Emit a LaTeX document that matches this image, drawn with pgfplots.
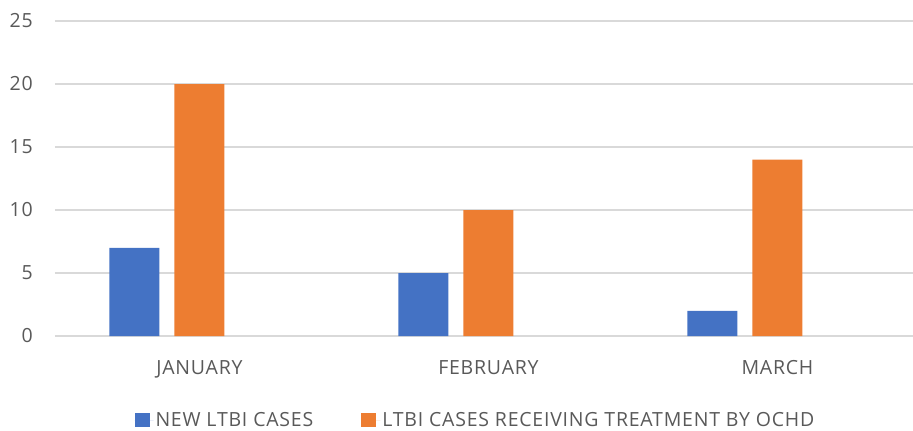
\documentclass[border=0pt]{standalone}
\usepackage{pgfplots}
\pgfplotsset{compat=1.18}
\usepackage{fontspec}
\setmainfont{Open Sans}[LetterSpace=4]
\definecolor{cblue}{HTML}{4472C4}
\definecolor{corange}{HTML}{ED7D31}
\definecolor{gridc}{HTML}{D9D9D9}
\definecolor{txt}{HTML}{595959}
\begin{document}
\begin{tikzpicture}
\begin{axis}[name=ax, scale only axis, width=858pt, height=315pt,
  xmin=-0.5, xmax=2.469, ymin=0, ymax=25,
  ytick={0,5,10,15,20,25}, xtick={0,1,2}, xticklabels={JANUARY,FEBRUARY,MARCH},
  axis line style={draw=none},
  ymajorgrids, grid style={gridc, line width=1.5pt},
  major tick length=0pt, tick style={draw=none},
  /pgf/number format/assume math mode=true,
  ticklabel style={font=\fontsize{19.5}{22}\selectfont, text=txt},
  yticklabel style={anchor=east, inner sep=0pt, xshift=-22pt},
  xticklabel style={anchor=base, inner sep=0pt, yshift=-38pt},
  legend style={at={(0.49,-0.267)}, anchor=center, draw=none, fill=none,
    font=\fontsize{19.5}{22}\selectfont, text=txt, legend columns=2,
    /tikz/every even column/.append style={column sep=46pt}},
  legend image code/.code={\path (0pt,0pt) -- (19pt,0pt); \fill[#1] (0pt,-7pt) rectangle (15pt,7.5pt);},
]
\addplot[ybar, bar width=50pt, bar shift=-65pt, fill=cblue, draw=none]
  coordinates {(0,7) (1,5) (2,2)};
\addlegendentry{NEW LTBI CASES}
\addplot[ybar, bar width=50pt, bar shift=0pt, fill=corange, draw=none]
  coordinates {(0,20) (1,10) (2,14)};
\addlegendentry{LTBI CASES RECEIVING TREATMENT BY OCHD}
\end{axis}
\pgfresetboundingbox
\path ([xshift=-55pt,yshift=-95pt]ax.south west) rectangle ([yshift=21pt]ax.north east);
\end{tikzpicture}
\end{document}
